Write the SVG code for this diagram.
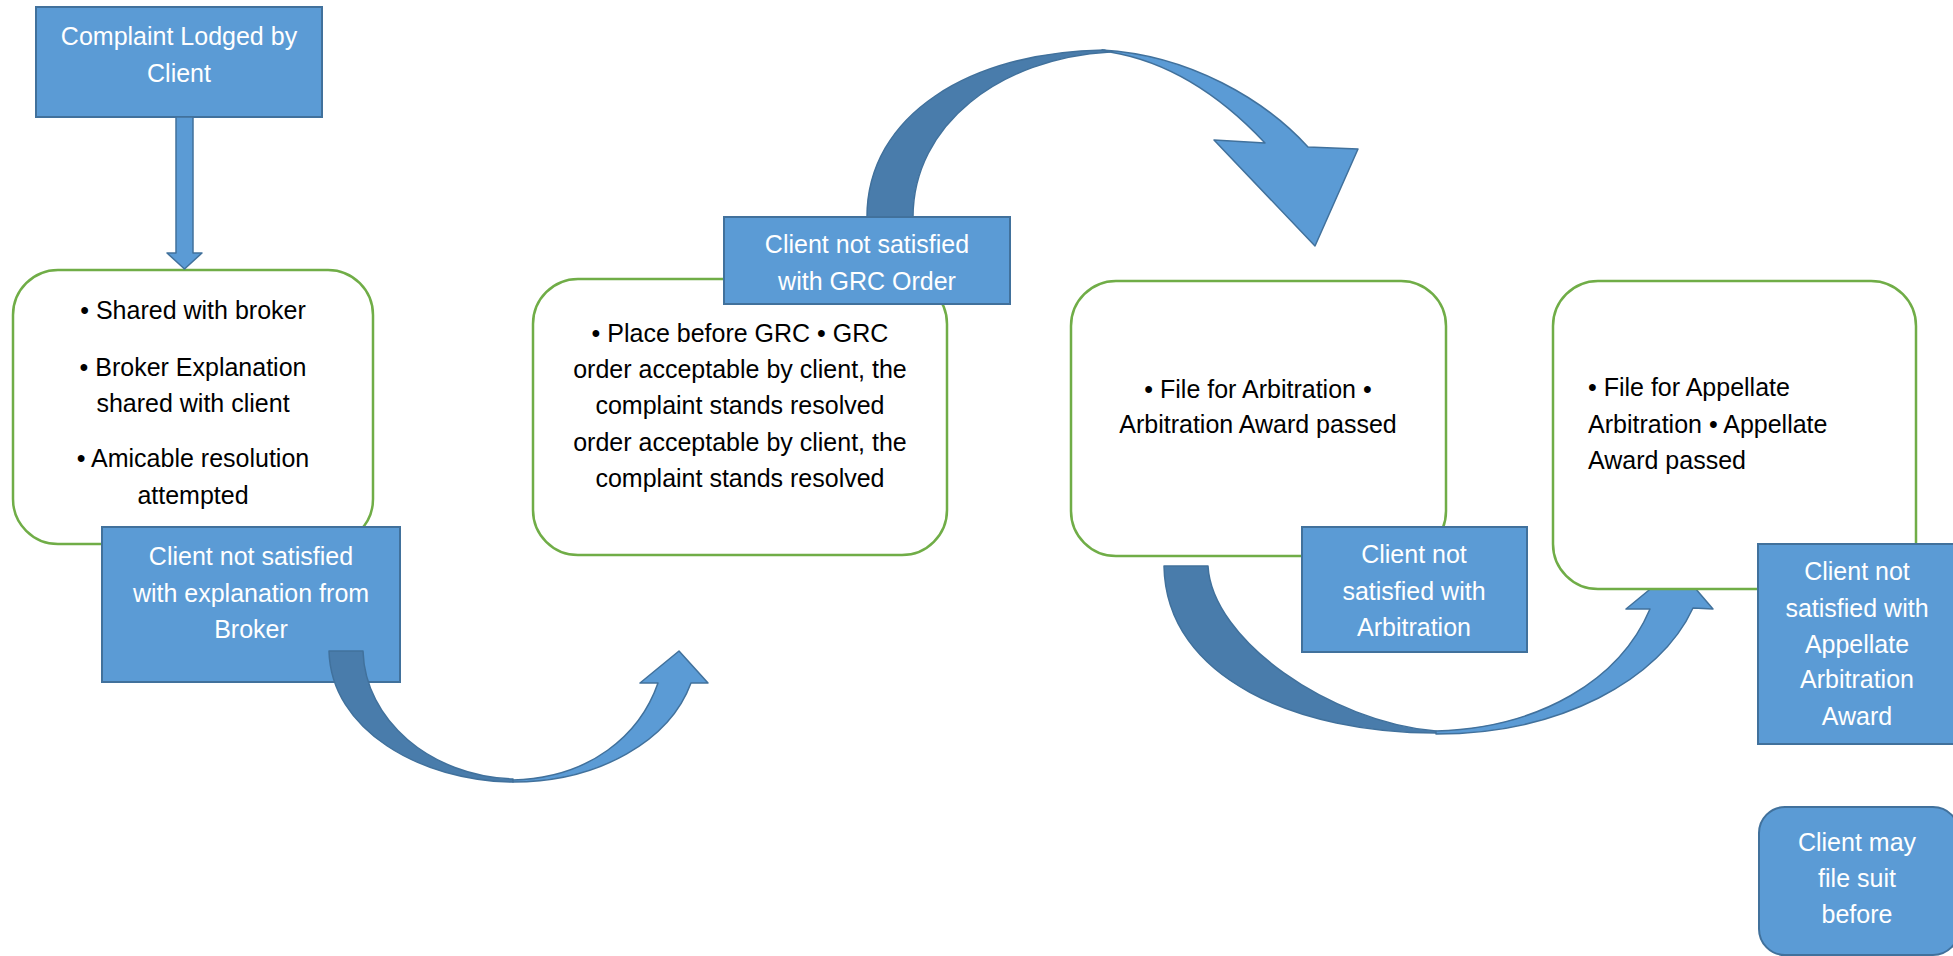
<svg xmlns="http://www.w3.org/2000/svg" width="1953" height="956" viewBox="0 0 1953 956">
  <style>
    .step { fill: #ffffff; stroke: #70AD47; stroke-width: 2.5; }
    .note { fill: #5B9BD5; stroke: #41719C; stroke-width: 2; }
    .back { fill: #497CAB; stroke: #41719C; stroke-width: 1.5; stroke-linejoin: round; }
    .front { fill: #5B9BD5; stroke: #41719C; stroke-width: 1.5; stroke-linejoin: round; }
    text { font-family: "Liberation Sans", Arial, sans-serif; font-size: 25px; }
    .dark { fill: #000000; text-anchor: middle; }
    .left { fill: #000000; text-anchor: start; }
    .light { fill: #ffffff; text-anchor: middle; }
  </style>
  <rect width="1953" height="956" fill="#ffffff"/>

  <!-- complaint start -->
  <g id="complaint">
    <rect class="note" x="36" y="7" width="286" height="110"/>
    <text class="light" x="179" y="45">Complaint Lodged by</text>
    <text class="light" x="179" y="82">Client</text>
  </g>

  <!-- step 1: broker -->
  <g id="broker-step">
    <rect class="step" x="13" y="270" width="360" height="274" rx="45" ry="45"/>
    <text class="dark" x="193" y="319">• Shared with broker</text>
    <text class="dark" x="193" y="376">• Broker Explanation</text>
    <text class="dark" x="193" y="412">shared with client</text>
    <text class="dark" x="193" y="467">• Amicable resolution</text>
    <text class="dark" x="193" y="504">attempted</text>
  </g>
  <g id="broker-unsatisfied">
    <rect class="note" x="102" y="527" width="298" height="155"/>
    <text class="light" x="251" y="565">Client not satisfied</text>
    <text class="light" x="251" y="602">with explanation from</text>
    <text class="light" x="251" y="638">Broker</text>
  </g>

  <!-- step 2: GRC -->
  <g id="grc-step">
    <rect class="step" x="533" y="279" width="414" height="276" rx="45" ry="45"/>
    <text class="dark" x="740" y="342">• Place before GRC • GRC</text>
    <text class="dark" x="740" y="378">order acceptable by client, the</text>
    <text class="dark" x="740" y="414">complaint stands resolved</text>
    <text class="dark" x="740" y="451">order acceptable by client, the</text>
    <text class="dark" x="740" y="487">complaint stands resolved</text>
  </g>

  <!-- connectors -->
  <g id="connectors">
    <!-- straight down arrow -->
    <path class="front" d="M176,117 L193,117 L193,253 L202,253 L184.5,269 L167,253 L176,253 Z"/>
    <!-- curved arrow: broker -> GRC -->
    <path class="back" d="M329,651 C331,730 420,781 513,782 L513,779 C430,776 365,720 363,651 Z"/>
    <path class="front" d="M513,782 C600,782 670,740 691,683 L708,683 L679,651 L640,683 L658,683 C640,735 590,778 513,780 Z"/>
    <!-- curved arrow: GRC -> arbitration -->
    <path class="back" d="M867,217 C867,115 970,52 1104,50 L1110,52 C1000,58 913,125 913,217 Z"/>
    <path class="front" d="M1102,50 C1190,55 1265,100 1308,147 L1358,149 L1315,246 L1214,140 L1265,143 C1220,95 1170,62 1110,52 Z"/>
    <!-- curved arrow: arbitration -> appellate -->
    <path class="back" d="M1164,566 C1166,680 1300,733 1436,733 L1436,731 C1330,722 1212,640 1208,566 Z"/>
    <path class="front" d="M1436,734 C1560,734 1660,680 1693,608 L1713,609 L1677,567 L1626,609 L1650,609 C1620,680 1540,728 1436,731 Z"/>
  </g>

  <g id="grc-unsatisfied">
    <rect class="note" x="724" y="217" width="286" height="87"/>
    <text class="light" x="867" y="253">Client not satisfied</text>
    <text class="light" x="867" y="290">with GRC Order</text>
  </g>

  <!-- step 3: arbitration -->
  <g id="arbitration-step">
    <rect class="step" x="1071" y="281" width="375" height="275" rx="45" ry="45"/>
    <text class="dark" x="1258" y="398">• File for Arbitration •</text>
    <text class="dark" x="1258" y="433">Arbitration Award passed</text>
  </g>
  <g id="arbitration-unsatisfied">
    <rect class="note" x="1302" y="527" width="225" height="125"/>
    <text class="light" x="1414" y="563">Client not</text>
    <text class="light" x="1414" y="600">satisfied with</text>
    <text class="light" x="1414" y="636">Arbitration</text>
  </g>

  <!-- step 4: appellate arbitration -->
  <g id="appellate-step">
    <rect class="step" x="1553" y="281" width="363" height="308" rx="45" ry="45"/>
    <text class="left" x="1588" y="396">• File for Appellate</text>
    <text class="left" x="1588" y="433">Arbitration • Appellate</text>
    <text class="left" x="1588" y="469">Award passed</text>
  </g>
  <g id="appellate-unsatisfied">
    <rect class="note" x="1758" y="544" width="198" height="200"/>
    <text class="light" x="1857" y="580">Client not</text>
    <text class="light" x="1857" y="617">satisfied with</text>
    <text class="light" x="1857" y="653">Appellate</text>
    <text class="light" x="1857" y="688">Arbitration</text>
    <text class="light" x="1857" y="725">Award</text>
  </g>

  <!-- final option -->
  <g id="file-suit">
    <rect class="note" x="1759" y="807" width="200" height="148" rx="26" ry="26"/>
    <text class="light" x="1857" y="851">Client may</text>
    <text class="light" x="1857" y="887">file suit</text>
    <text class="light" x="1857" y="923">before</text>
  </g>
</svg>
